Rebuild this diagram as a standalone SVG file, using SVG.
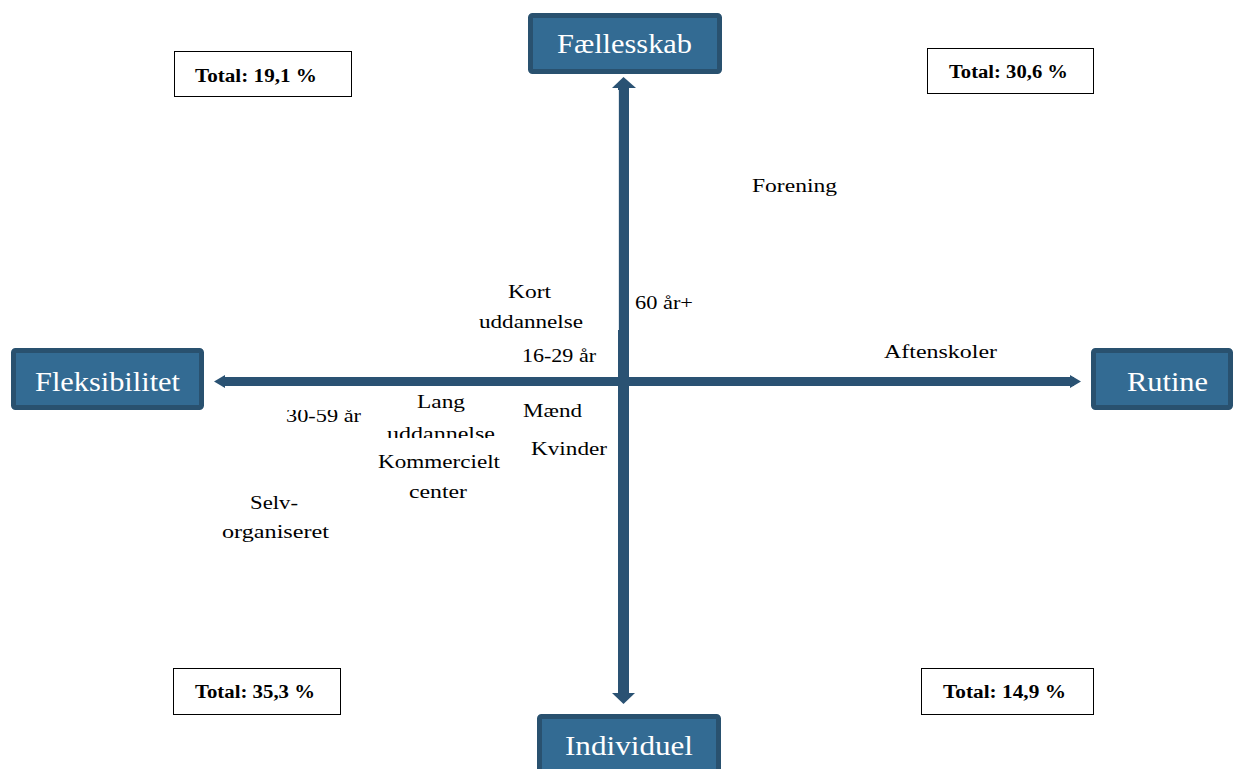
<svg xmlns="http://www.w3.org/2000/svg" width="1233" height="769" viewBox="0 0 1233 769">
<style>
.box{fill:#336b93;stroke:#29516f;stroke-width:5}
.bt{font-family:"Liberation Serif",serif;font-size:28px;fill:#ffffff}
.tot{fill:#ffffff;stroke:#000000;stroke-width:1}
.tt{font-family:"Liberation Serif",serif;font-size:18px;font-weight:bold;fill:#000000}
.lb{font-family:"Liberation Serif",serif;font-size:19px;fill:#000000}
.ax{fill:#2a5273}
</style>
<defs>
<clipPath id="clipTop"><rect x="250" y="410" width="150" height="40"/></clipPath>
<clipPath id="clipBot"><rect x="360" y="415" width="160" height="23"/></clipPath>
</defs>
<rect width="1233" height="769" fill="#ffffff"/>
<g id="connectors">
<rect class="ax" x="618" y="87" width="11" height="607"/>
<polygon class="ax" points="623.5,77 636,88 612,88"/>
<polygon class="ax" points="623.5,704 635,693 612,693"/>
<line x1="618.5" y1="90" x2="618.5" y2="330" stroke="#dfe6ec" stroke-width="1"/>
<rect class="ax" x="222" y="377" width="852" height="9"/>
<polygon class="ax" points="214,381.5 225,375 225,388"/>
<polygon class="ax" points="1081,381.5 1070,375 1070,388"/>
</g>
<g id="node-faellesskab">
<rect class="box" x="530.5" y="15.5" width="189" height="56" rx="2"/>
<text class="bt" x="557" y="53" textLength="135" lengthAdjust="spacingAndGlyphs">Fællesskab</text>
</g>
<g id="node-fleksibilitet">
<rect class="box" x="13.5" y="350.5" width="188" height="57" rx="2"/>
<text class="bt" x="35" y="391" textLength="145" lengthAdjust="spacingAndGlyphs">Fleksibilitet</text>
</g>
<g id="node-rutine">
<rect class="box" x="1093.5" y="350.5" width="137" height="57" rx="2"/>
<text class="bt" x="1127" y="391" textLength="81" lengthAdjust="spacingAndGlyphs">Rutine</text>
</g>
<g id="node-individuel">
<rect class="box" x="539.5" y="716.5" width="179" height="60" rx="2"/>
<text class="bt" x="565" y="755" textLength="128" lengthAdjust="spacingAndGlyphs">Individuel</text>
</g>
<g id="total-1">
<rect class="tot" x="174.5" y="51.5" width="177" height="45"/>
<text class="tt" x="195" y="82" textLength="122" lengthAdjust="spacingAndGlyphs">Total: 19,1 %</text>
</g>
<g id="total-2">
<rect class="tot" x="927.5" y="48.5" width="166" height="45"/>
<text class="tt" x="949" y="78" textLength="119" lengthAdjust="spacingAndGlyphs">Total: 30,6 %</text>
</g>
<g id="total-3">
<rect class="tot" x="173.5" y="668.5" width="167" height="46"/>
<text class="tt" x="195" y="698" textLength="120" lengthAdjust="spacingAndGlyphs">Total: 35,3 %</text>
</g>
<g id="total-4">
<rect class="tot" x="921.5" y="668.5" width="172" height="46"/>
<text class="tt" x="943" y="698" textLength="123" lengthAdjust="spacingAndGlyphs">Total: 14,9 %</text>
</g>
<g id="labels">
<text class="lb" x="752" y="192" textLength="85" lengthAdjust="spacingAndGlyphs">Forening</text>
<text class="lb" x="508" y="298" textLength="43" lengthAdjust="spacingAndGlyphs">Kort</text>
<text class="lb" x="479" y="328" textLength="104" lengthAdjust="spacingAndGlyphs">uddannelse</text>
<text class="lb" x="635" y="309" textLength="58" lengthAdjust="spacingAndGlyphs">60 år+</text>
<text class="lb" x="522" y="362" textLength="74" lengthAdjust="spacingAndGlyphs">16-29 år</text>
<text class="lb" x="884" y="358" textLength="113" lengthAdjust="spacingAndGlyphs">Aftenskoler</text>
<text class="lb" x="286" y="422" textLength="75" lengthAdjust="spacingAndGlyphs" clip-path="url(#clipTop)">30-59 år</text>
<text class="lb" x="417" y="408" textLength="48" lengthAdjust="spacingAndGlyphs">Lang</text>
<text class="lb" x="387" y="440" textLength="108" lengthAdjust="spacingAndGlyphs" clip-path="url(#clipBot)">uddannelse</text>
<text class="lb" x="523" y="417" textLength="59" lengthAdjust="spacingAndGlyphs">Mænd</text>
<text class="lb" x="531" y="455" textLength="76" lengthAdjust="spacingAndGlyphs">Kvinder</text>
<text class="lb" x="378" y="468" textLength="122" lengthAdjust="spacingAndGlyphs">Kommercielt</text>
<text class="lb" x="409" y="498" textLength="58" lengthAdjust="spacingAndGlyphs">center</text>
<text class="lb" x="250" y="509" textLength="48" lengthAdjust="spacingAndGlyphs">Selv-</text>
<text class="lb" x="222" y="538" textLength="107" lengthAdjust="spacingAndGlyphs">organiseret</text>
</g>
</svg>
